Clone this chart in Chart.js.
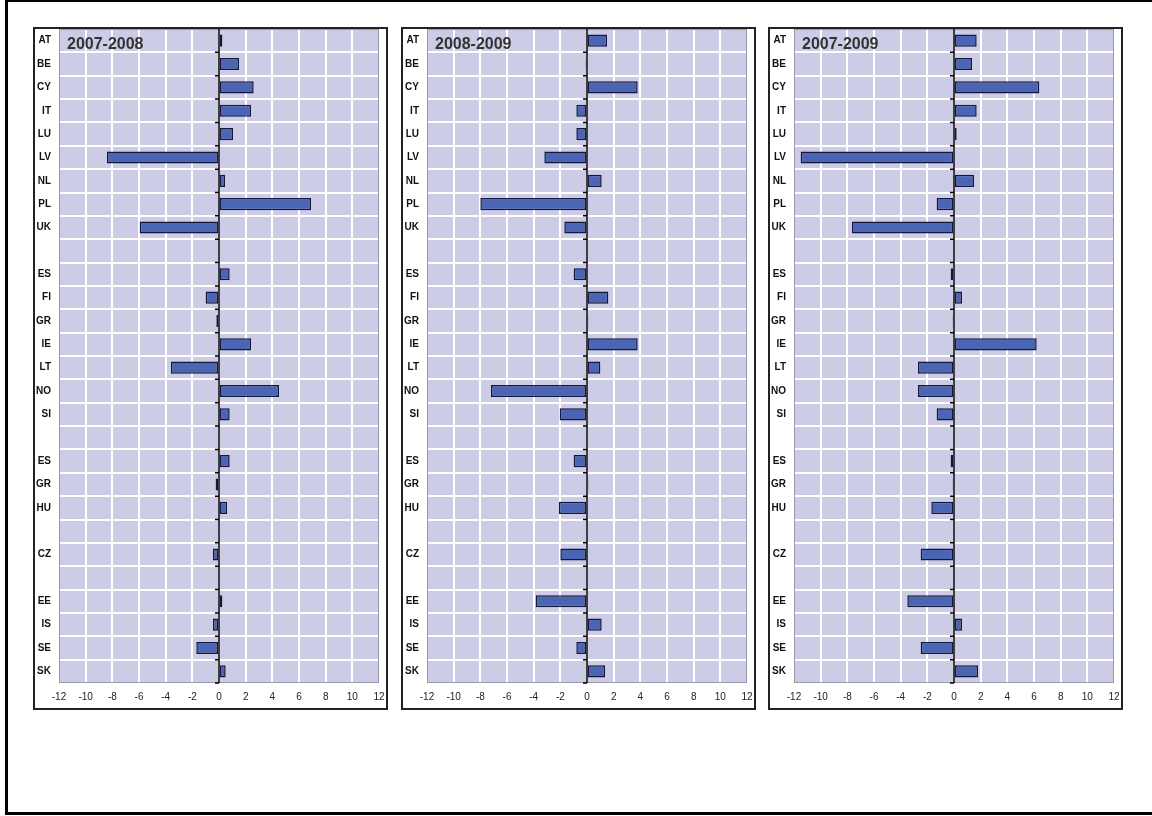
<!DOCTYPE html>
<html>
<head>
<meta charset="utf-8">
<title>Change by country</title>
<script src="https://cdn.jsdelivr.net/npm/chart.js@4.4.1/dist/chart.umd.min.js"></script>
<style>
    html, body { margin: 0; padding: 0; background: #fff; }
    body { width: 1152px; height: 816px; position: relative; overflow: hidden; font-family: "Liberation Sans", Arial, sans-serif; }
    .page-frame { position: absolute; left: 5px; top: -1px; width: 1150px; height: 816px; border: 3px solid #000; box-sizing: border-box; }
    .panel { position: absolute; top: 27px; width: 355px; height: 683px; border: 2px solid #222; box-sizing: border-box; background: #fff; }
    .panel .box { position: relative; width: 100%; height: 100%; }
</style>
</head>
<body>
<div class="page-frame"></div>
<div class="panel" style="left:33px"><div class="box"><canvas id="chart1"></canvas></div></div>
<div class="panel" style="left:401px"><div class="box"><canvas id="chart2"></canvas></div></div>
<div class="panel" style="left:768px"><div class="box"><canvas id="chart3"></canvas></div></div>

<script>
// --- Data ---
const countries = ['AT', 'BE', 'CY', 'IT', 'LU', 'LV', 'NL', 'PL', 'UK', '',
    'ES', 'FI', 'GR', 'IE', 'LT', 'NO', 'SI', '',
    'ES', 'GR', 'HU', '', 'CZ', '', 'EE', 'IS', 'SE', 'SK'];

const values2007_2008 = [0.25, 1.5, 2.6, 2.4, 1.05, -8.4, 0.45, 6.9, -5.95, null,
    0.8, -1.0, -0.2, 2.4, -3.6, 4.5, 0.8, null,
    0.8, -0.25, 0.6, null, -0.45, null, 0.25, -0.45, -1.7, 0.5];

const values2008_2009 = [1.5, -0.1, 3.8, -0.8, -0.8, -3.2, 1.1, -8.0, -1.7, null,
    -1.0, 1.6, 0.1, 3.8, 1.0, -7.2, -2.05, null,
    -1.0, 0.1, -2.1, null, -2.0, null, -3.85, 1.1, -0.8, 1.35];

const values2007_2009 = [1.7, 1.35, 6.4, 1.7, 0.2, -11.5, 1.5, -1.3, -7.65, null,
    -0.25, 0.6, -0.1, 6.2, -2.7, -2.7, -1.3, null,
    -0.25, -0.1, -1.7, null, -2.5, null, -3.5, 0.6, -2.5, 1.8];

const xTicks = [-12, -10, -8, -6, -4, -2, 0, 2, 4, 6, 8, 10, 12];

const panels = [
    { id: 'chart1', title: '2007-2008', values: values2007_2008 },
    { id: 'chart2', title: '2008-2009', values: values2008_2009 },
    { id: 'chart3', title: '2007-2009', values: values2007_2009 }
];

// no automatic label padding, so the plot fills the panel like the original
const noPadding = scale => {
    scale.paddingTop = 0;
    scale.paddingBottom = 0;
    scale.paddingLeft = 0;
    scale.paddingRight = 0;
};

// --- Panel decoration: plot background, zero axis, title, frame ---
const panelDecor = {
    id: 'panelDecor',
    beforeDraw(chart) {
        const { ctx, chartArea: a } = chart;
        ctx.save();
        ctx.fillStyle = '#cdcce6';
        ctx.fillRect(a.left, a.top, a.right - a.left, a.bottom - a.top);
        ctx.restore();
    },
    afterDatasetsDraw(chart, args, opts) {
        const { ctx, chartArea: a, scales } = chart;
        const x0 = scales.x.getPixelForValue(0);
        ctx.save();
        // plot frame
        ctx.strokeStyle = '#9a9aa6';
        ctx.lineWidth = 1;
        ctx.strokeRect(a.left + 0.5, a.top + 0.5, a.right - a.left - 1, a.bottom - a.top - 1);
        // zero axis with small ticks between rows
        ctx.strokeStyle = '#000';
        ctx.lineWidth = 1.5;
        ctx.beginPath();
        ctx.moveTo(x0, a.top);
        ctx.lineTo(x0, a.bottom);
        const n = countries.length;
        for (let i = 1; i <= n; i++) {
            const y = (scales.y.getPixelForValue(i - 1) + scales.y.getPixelForValue(Math.min(i, n - 1))) / 2;
            const yy = i === n ? a.bottom : y;
            ctx.moveTo(x0 - 4, yy);
            ctx.lineTo(x0, yy);
        }
        ctx.stroke();
        // title
        ctx.fillStyle = '#333';
        ctx.font = 'bold 16px "Liberation Sans", Arial, sans-serif';
        ctx.textBaseline = 'middle';
        ctx.textAlign = 'left';
        ctx.fillText(opts.title, a.left + 8, a.top + 16);
        ctx.restore();
    }
};

panels.forEach(p => {
    const ctx = document.getElementById(p.id).getContext('2d');
    new Chart(ctx, {
        type: 'bar',
        data: {
            labels: countries,
            datasets: [{
                data: p.values,
                backgroundColor: '#4a65b3',
                borderColor: '#14163a',
                borderWidth: 1.5,
                borderSkipped: false,
                categoryPercentage: 1,
                barPercentage: 0.52
            }]
        },
        options: {
            indexAxis: 'y',
            responsive: true,
            maintainAspectRatio: false,
            animation: false,
            layout: { padding: { left: 0, right: 7, top: 0, bottom: 0 } },
            plugins: {
                legend: { display: false },
                tooltip: { enabled: false },
                panelDecor: { title: p.title }
            },
            scales: {
                x: {
                    type: 'linear',
                    min: -12,
                    max: 12,
                    afterBuildTicks: scale => { scale.ticks = xTicks.map(v => ({ value: v })); },
                    afterFit: scale => { scale.height = 25; noPadding(scale); },
                    grid: { color: '#ffffff', lineWidth: 2, drawTicks: false },
                    border: { display: false },
                    ticks: {
                        padding: 8,
                        color: '#222',
                        font: { family: '"Liberation Sans", Arial, sans-serif', size: 10 },
                        maxRotation: 0,
                        autoSkip: false
                    }
                },
                y: {
                    offset: true,
                    afterFit: scale => { scale.width = 24; noPadding(scale); },
                    grid: { color: '#ffffff', lineWidth: 2, drawTicks: false, offset: true },
                    border: { display: false },
                    ticks: {
                        padding: 8,
                        color: '#111',
                        autoSkip: false,
                        font: { family: '"Liberation Sans", Arial, sans-serif', size: 10, weight: 'bold' }
                    }
                }
            }
        },
        plugins: [panelDecor]
    });
});
</script>
</body>
</html>
